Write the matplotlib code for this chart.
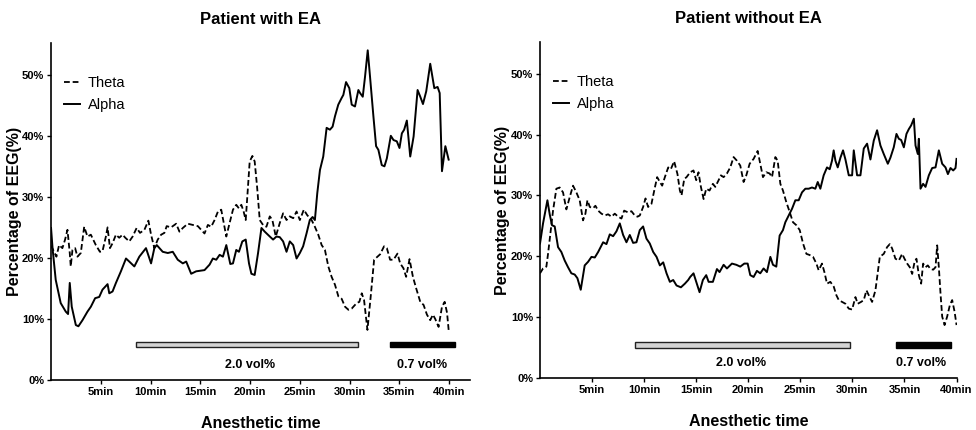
import matplotlib.pyplot as plt
from matplotlib.ticker import FixedLocator, FuncFormatter

# Patient with EA
ea_theta_t = [0.0, 0.54, 0.81, 1.14, 1.41, 1.65, 1.88, 1.98, 2.15, 2.42, 2.65, 2.99, 3.33, 3.66, 4.0, 4.5,
              4.91, 5.17, 5.51, 5.68, 5.92, 6.18, 6.52, 6.85, 7.19, 7.46, 7.86, 8.2, 8.6, 8.94, 9.38, 9.78,
              10.05, 10.38, 10.72, 11.06, 11.39, 11.62, 12.06, 12.57, 12.9, 13.24, 13.74, 14.24, 14.75,
              15.42, 15.76, 16.09, 16.43, 16.77, 17.1, 17.61, 17.94, 18.28, 18.61, 18.88, 19.12, 19.35,
              19.56, 19.79, 19.96, 20.23, 20.46, 20.7, 20.97, 21.3, 21.64, 21.98, 22.24, 22.58, 22.98,
              23.32, 23.66, 23.99, 24.33, 24.67, 25.0, 25.4, 25.74, 26.18, 26.51, 26.85, 27.19, 27.52,
              27.86, 28.19, 28.53, 28.87, 29.2, 29.54, 29.88, 30.21, 30.71, 30.98, 31.22, 31.45, 31.79,
              32.12, 32.46, 32.8, 33.07, 33.46, 33.74, 34.07, 34.41, 34.81, 35.08, 35.41, 35.68, 36.02,
              36.36, 36.69, 37.1, 37.43, 37.77, 38.1, 38.37, 38.6, 38.94, 39.28, 39.55, 39.79, 39.95]
ea_theta = [22.0, 20.2, 22.1, 21.6, 23.0, 24.6, 20.8, 18.6, 21.3, 21.6, 20.2, 20.8, 25.1, 23.5, 23.8, 22.1,
            21.0, 21.1, 23.5, 25.0, 21.6, 22.4, 23.8, 23.3, 23.8, 23.3, 22.7, 23.5, 24.9, 24.1, 24.6, 26.1,
            23.8, 21.6, 23.0, 23.8, 24.1, 25.2, 25.0, 25.6, 24.3, 24.9, 25.6, 25.4, 25.2,
            24.0, 25.4, 25.1, 26.2, 27.6, 27.9, 23.5, 25.7, 27.9, 28.7, 28.1, 28.7, 27.6,
            26.2, 31.7, 35.8, 36.7, 35.8, 31.7, 26.2, 25.4, 25.1, 26.8, 26.2, 23.5, 25.7,
            27.3, 26.2, 26.8, 26.5, 27.6, 26.2, 27.9, 27.0, 26.2, 25.1, 23.8, 22.1, 21.3,
            18.6, 16.9, 15.6, 13.7, 13.3, 12.0, 11.5, 11.7, 12.6, 12.8, 14.2, 13.1, 8.2,
            13.7, 19.7, 20.2, 20.6, 21.9, 21.6, 19.7, 19.7, 20.7, 19.1, 18.3, 16.9, 19.8,
            16.9, 15.0, 12.8, 12.3, 10.7, 9.8, 10.7, 10.0, 8.7, 12.0, 12.8, 11.0, 8.2]

ea_alpha_t = [0.0, 0.15, 0.47, 0.97, 1.48, 1.71, 1.88, 2.08, 2.49, 2.75, 3.16, 3.66, 4.0, 4.43, 4.84, 5.17,
              5.68, 5.85, 6.18, 6.52, 7.02, 7.53, 7.86, 8.37, 8.87, 9.54, 10.05, 10.38, 10.62, 11.22, 11.73,
              12.23, 12.73, 13.24, 13.58, 14.08, 14.58, 15.42, 15.93, 16.26, 16.6, 16.94, 17.27, 17.61,
              18.01, 18.28, 18.61, 18.88, 19.22, 19.56, 19.89, 20.13, 20.46, 20.8, 21.14, 21.47, 21.98,
              22.31, 22.65, 22.98, 23.32, 23.66, 23.99, 24.33, 24.67, 25.0, 25.33, 25.67, 26.0, 26.28,
              26.51, 26.75, 27.02, 27.35, 27.69, 28.02, 28.29, 28.53, 28.86, 29.2, 29.37, 29.64, 29.97,
              30.21, 30.54, 30.88, 31.05, 31.32, 31.55, 31.82, 32.05, 32.39, 32.66, 32.89, 33.23, 33.5,
              33.74, 34.14, 34.41, 34.74, 35.01, 35.25, 35.48, 35.75, 36.09, 36.43, 36.83, 37.1, 37.37,
              37.7, 38.1, 38.51, 38.84, 39.05, 39.28, 39.62, 39.95]
ea_alpha = [24.9, 21.6, 16.4, 12.6, 11.2, 10.8, 15.9, 12.0, 9.0, 8.8, 9.8, 11.2, 12.0, 13.4, 13.6, 14.8,
            15.7, 14.2, 14.5, 15.9, 17.8, 19.9, 19.4, 18.6, 20.2, 21.6, 19.1, 21.6, 22.1, 21.0, 20.8,
            21.0, 19.7, 19.1, 19.4, 17.4, 17.8, 18.0, 18.9, 19.9, 19.7, 20.5, 20.2, 22.1,
            19.0, 19.1, 21.3, 21.0, 22.7, 23.0, 19.1, 17.4, 17.2, 20.8, 24.9, 24.3, 23.5,
            23.0, 23.5, 23.4, 22.7, 21.0, 22.7, 22.1, 19.9, 20.8, 21.9, 24.0, 26.2, 26.7,
            26.2, 30.6, 34.4, 36.6, 41.3, 41.0, 41.5, 43.2, 45.1, 46.2, 46.7, 48.8, 47.8,
            45.1, 44.8, 47.5, 47.0, 46.4, 49.7, 54.0, 49.7, 43.2, 38.3, 37.7, 35.2, 35.0,
            36.3, 40.0, 39.3, 39.1, 38.0, 40.4, 41.0, 42.5, 36.6, 39.9, 47.5, 46.4, 45.2,
            47.3, 51.8, 47.8, 48.0, 47.0, 34.2, 38.3, 36.1]

# Patient without EA
no_theta_t = [0.0, 0.29, 0.61, 0.77, 1.03, 1.25, 1.57, 1.89, 2.21, 2.53, 2.85, 3.17, 3.49, 3.81, 4.13, 4.36,
              4.55, 4.78, 5.1, 5.32, 5.58, 5.9, 6.22, 6.54, 6.86, 7.18, 7.5, 7.82, 8.08, 8.46, 8.78, 9.1,
              9.36, 9.58, 9.9, 10.13, 10.38, 10.7, 11.03, 11.25, 11.51, 11.73, 11.99, 12.31, 12.56, 12.88,
              13.2, 13.43, 13.59, 13.85, 14.07, 14.42, 14.74, 15.0, 15.22, 15.45, 15.71, 15.96, 16.28,
              16.6, 16.83, 17.15, 17.37, 17.63, 17.95, 18.27, 18.59, 18.91, 19.23, 19.55, 19.81, 20.13,
              20.51, 20.9, 21.15, 21.41, 21.73, 22.05, 22.28, 22.6, 22.82, 23.08, 23.33, 23.65, 23.97,
              24.29, 24.62, 24.94, 25.26, 25.58, 25.9, 26.22, 26.54, 26.76, 27.08, 27.31, 27.56, 27.88,
              28.21, 28.46, 28.69, 29.01, 29.33, 29.65, 29.97, 30.29, 30.51, 30.83, 31.09, 31.35, 31.57,
              31.89, 32.21, 32.63, 33.01, 33.33, 33.59, 33.81, 34.13, 34.46, 34.78, 35.0, 35.26, 35.51,
              35.74, 35.96, 36.15, 36.38, 36.6, 36.79, 37.02, 37.24, 37.5, 37.76, 37.98, 38.14, 38.3,
              38.46, 38.62, 38.85, 39.1, 39.36, 39.58, 39.81, 40.0]
no_theta = [17.2, 18.0, 18.3, 20.4, 24.3, 27.5, 31.1, 31.3, 30.5, 27.7, 29.7, 31.6, 30.5, 29.2, 25.9, 27.0,
            29.2, 28.1, 27.9, 28.3, 27.5, 27.0, 26.7, 26.9, 26.5, 27.0, 26.5, 26.2, 27.5, 27.2, 27.4, 26.7,
            26.5, 26.7, 28.1, 29.5, 28.1, 28.6, 31.3, 33.0, 32.2, 31.6, 33.0, 34.6, 34.3, 35.6,
            33.5, 30.8, 30.0, 32.7, 33.0, 33.8, 34.1, 32.5, 33.8, 31.4, 29.4, 31.1, 30.8,
            31.9, 31.4, 32.5, 33.3, 33.0, 33.6, 34.6, 36.3, 35.7, 34.9, 32.2, 33.3, 35.2,
            36.0, 37.3, 35.2, 33.0, 33.8, 33.6, 33.0, 36.3, 35.7, 31.9, 30.8, 28.9, 27.3,
            25.6, 25.1, 24.3, 22.1, 20.4, 20.2, 19.9, 18.8, 17.7, 18.8, 17.4, 15.5, 15.8,
            15.0, 13.6, 12.8, 12.5, 12.2, 11.4, 11.25, 13.3, 12.2, 12.5, 12.8, 14.4, 13.6,
            12.5, 14.4, 19.9, 20.4, 21.5, 22.0, 21.3, 19.6, 19.3, 20.4, 19.6, 18.8, 18.2,
            17.1, 19.0, 19.6, 16.9, 15.5, 18.8, 18.2, 18.5, 17.9, 17.8, 18.2, 21.8, 18.2,
            13.9, 10.1, 8.7, 10.1, 12.0, 12.8, 10.9, 8.7]

no_alpha_t = [0.0, 0.29, 0.71, 0.93, 1.15, 1.41, 1.73, 2.05, 2.37, 2.69, 3.01, 3.33, 3.59, 3.91, 4.29, 4.62,
              4.94, 5.26, 5.58, 6.06, 6.38, 6.7, 7.02, 7.34, 7.66, 7.98, 8.3, 8.62, 8.94, 9.26, 9.58, 9.9,
              10.22, 10.54, 10.87, 11.19, 11.51, 11.83, 12.15, 12.47, 12.79, 13.11, 13.53, 13.91, 14.23,
              14.42, 14.74, 15.06, 15.32, 15.64, 15.96, 16.19, 16.6, 16.99, 17.24, 17.63, 17.95, 18.43,
              18.85, 19.23, 19.62, 19.94, 20.19, 20.51, 20.83, 21.15, 21.47, 21.79, 22.12, 22.37, 22.69,
              23.01, 23.33, 23.56, 23.88, 24.2, 24.52, 24.84, 25.16, 25.48, 25.8, 26.12, 26.44, 26.67,
              26.92, 27.24, 27.56, 27.82, 28.04, 28.2, 28.37, 28.59, 28.85, 29.1, 29.33, 29.65, 29.97,
              30.13, 30.45, 30.77, 31.09, 31.41, 31.73, 32.05, 32.37, 32.69, 33.01, 33.4, 33.65, 33.97,
              34.23, 34.46, 34.68, 34.94, 35.19, 35.42, 35.64, 35.9, 36.06, 36.28, 36.38, 36.54, 36.79,
              37.02, 37.34, 37.66, 37.98, 38.3, 38.62, 38.94, 39.17, 39.42, 39.68, 39.9, 40.0]
no_alpha = [22.1, 25.4, 29.2, 26.9, 25.1, 24.9, 21.5, 20.7, 19.3, 18.2, 17.2, 17.0, 16.4, 14.5, 18.5, 19.1,
            19.9, 19.8, 20.7, 22.3, 22.0, 23.6, 23.3, 24.1, 25.4, 23.5, 22.3, 23.5, 22.2, 22.3, 24.3, 24.9,
            22.9, 22.1, 20.7, 19.9, 18.5, 19.0, 17.2, 15.8, 16.1, 15.2, 14.9, 15.5, 16.1,
            16.6, 17.2, 15.5, 14.1, 16.1, 16.9, 15.8, 15.8, 17.9, 17.4, 18.6, 18.0, 18.8,
            18.6, 18.3, 18.8, 18.8, 16.9, 16.6, 17.6, 17.2, 18.0, 17.4, 19.9, 18.6, 18.3,
            23.4, 24.3, 25.6, 26.7, 27.8, 29.2, 29.2, 30.5, 31.1, 31.1, 31.3, 31.1, 32.2,
            31.1, 33.3, 34.6, 34.3, 35.7, 37.4, 35.7, 34.6, 36.2, 37.4, 35.9, 33.3, 33.3,
            37.4, 33.3, 33.3, 37.7, 38.5, 35.9, 39.0, 40.7, 38.2, 36.8, 35.2, 36.2, 37.9,
            40.1, 39.3, 39.1, 37.9, 40.1, 40.9, 41.5, 42.6, 38.2, 36.8, 39.3, 31.1, 31.9,
            31.4, 33.3, 34.5, 34.6, 37.4, 35.2, 34.6, 33.5, 34.5, 34.1, 34.5, 36.0]

x_ticks = [5, 10, 15, 20, 25, 30, 35, 40]
y_ticks = [0, 10, 20, 30, 40, 50]

# dose bars: (start, end) minutes and label positions
ea_dose_high = (8.5, 30.8)
ea_dose_low = (34.1, 40.6)
ea_label_x = [20.0, 37.3]
no_dose_high = (9.1, 29.8)
no_dose_low = (34.2, 39.5)
no_label_x = [19.3, 36.6]

bold_font = ['Liberation Sans Narrow', 'Liberation Sans', 'DejaVu Sans']
plt.rcParams['font.family'] = ['Liberation Sans', 'DejaVu Sans']

fig = plt.figure(figsize=(9.76, 4.3), dpi=100)
ax1 = fig.add_axes([0.0523, 0.1163, 0.4293, 0.7837])
ax2 = fig.add_axes([0.5533, 0.1209, 0.4273, 0.7814])


def draw_panel(ax, title, theta_t, theta, alpha_t, alpha, dose_high, dose_low, label_x, bar_y, xmax, ylab_x):
    ax.plot(theta_t, theta, color='black', lw=1.3, dashes=(3.2, 1.6), label='Theta')
    ax.plot(alpha_t, alpha, color='black', lw=1.4, label='Alpha')

    ax.barh(bar_y + 0.45, dose_high[1] - dose_high[0], left=dose_high[0], height=0.9,
            color='#d4d4d4', edgecolor='#222222', linewidth=1.0)
    ax.barh(bar_y + 0.45, dose_low[1] - dose_low[0], left=dose_low[0], height=0.9,
            color='black', edgecolor='black', linewidth=1.0)
    ax.text(label_x[0], 2.4, '2.0 vol%', ha='center', va='center', fontsize=9,
            fontweight='bold', family=bold_font)
    ax.text(label_x[1], 2.4, '0.7 vol%', ha='center', va='center', fontsize=9,
            fontweight='bold', family=bold_font)

    ax.set_xlim(0, xmax)
    ax.set_ylim(0, 55.2)
    ax.xaxis.set_major_locator(FixedLocator(x_ticks))
    ax.yaxis.set_major_locator(FixedLocator(y_ticks))
    ax.xaxis.set_major_formatter(FuncFormatter(lambda v, p: f'{int(v)}min'))
    ax.yaxis.set_major_formatter(FuncFormatter(lambda v, p: f'{int(v)}%'))
    for lab in ax.get_xticklabels() + ax.get_yticklabels():
        lab.set_fontweight('bold')
        lab.set_fontsize(8)
        lab.set_family(bold_font)
    ax.tick_params(direction='out', length=3, width=1.0, pad=2)
    ax.spines['top'].set_visible(False)
    ax.spines['right'].set_visible(False)
    ax.spines['left'].set_linewidth(1.2)
    ax.spines['bottom'].set_linewidth(1.2)

    ax.set_title(title, fontsize=12, fontweight='bold', family=bold_font, pad=14)
    ax.set_xlabel('Anesthetic time', fontsize=11.5, fontweight='bold', family=bold_font, labelpad=14)
    ax.set_ylabel('Percentage of EEG(%)', fontsize=11.5, fontweight='bold')
    ax.yaxis.set_label_coords(ylab_x, 0.5)
    ax.legend(loc='upper left', bbox_to_anchor=(0.0, 0.94), frameon=False, fontsize=10.5,
              handlelength=1.1, handletextpad=0.5, labelspacing=0.55)


draw_panel(ax1, 'Patient with EA', ea_theta_t, ea_theta, ea_alpha_t, ea_alpha,
           ea_dose_high, ea_dose_low, ea_label_x, 5.4, 42.1, -0.069)
draw_panel(ax2, 'Patient without EA', no_theta_t, no_theta, no_alpha_t, no_alpha,
           no_dose_high, no_dose_low, no_label_x, 5.0, 40.05, -0.072)

fig.savefig('out.png', dpi=100)
